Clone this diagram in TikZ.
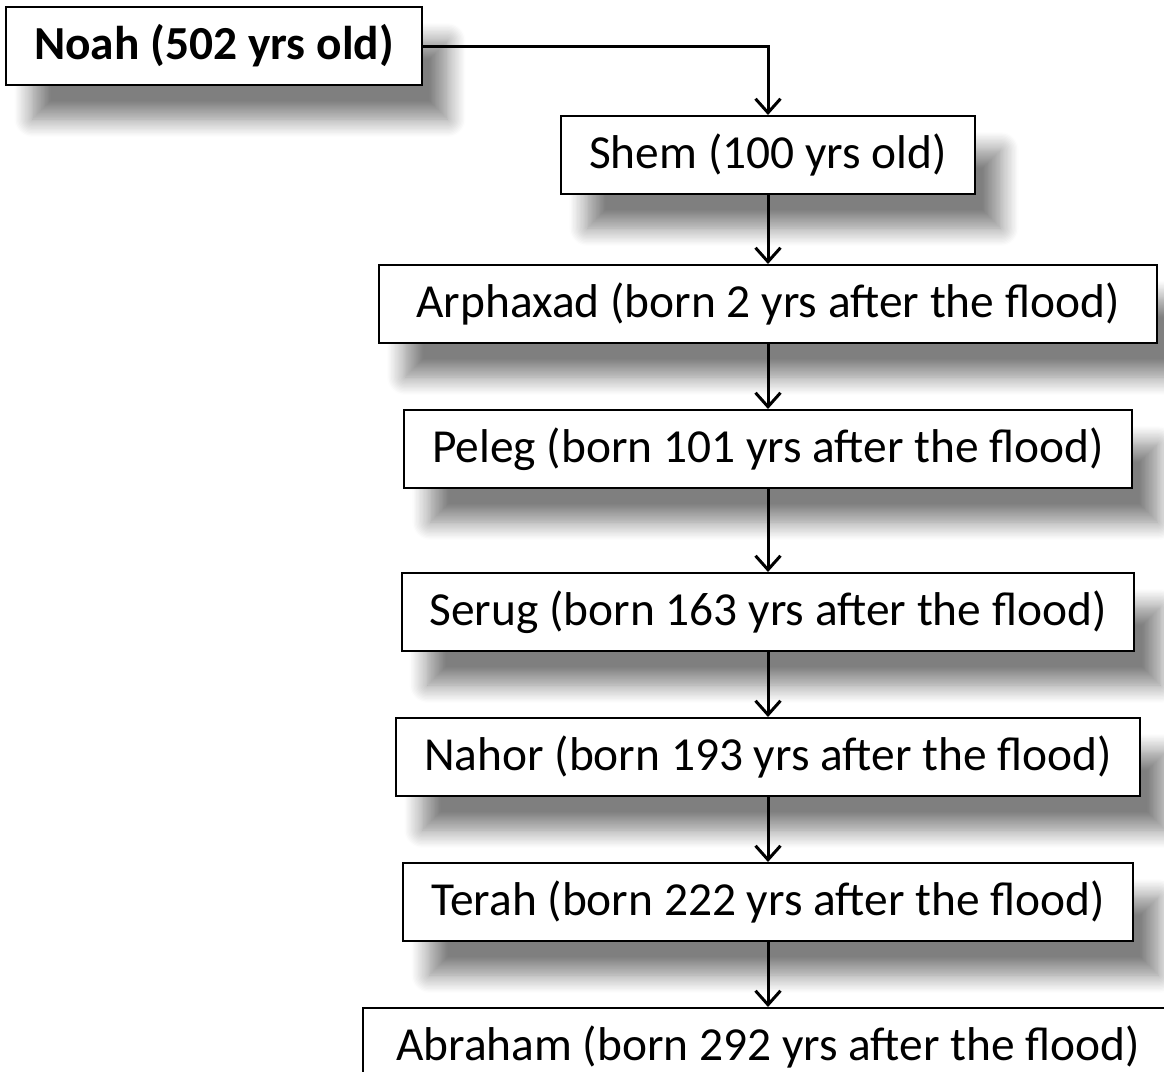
\documentclass[tikz,border=0pt]{standalone}
\usepackage{fontspec}
\setmainfont{Carlito}
\usetikzlibrary{arrows.meta, positioning, shadows.blur}
\usepackage{xcolor}
\tikzset{
    font=\fontsize{23.7pt}{28pt}\selectfont,
    >={Straight Barb[length=7pt, width=12.5pt]},
    % Shadow
    softShadow/.style={blur shadow={shadow xshift=13pt, shadow yshift=-17pt,
                       shadow blur radius=9pt, shadow blur steps=14, shadow opacity=50}},
    % Shapes
    person/.style={rectangle, draw=black, line width=1pt, fill=white,
                   minimum height=39pt, inner xsep=14pt, align=center, softShadow},
    % Flow
    flow/.style={->, line width=1.5pt, black}
}

\begin{document}
\begin{tikzpicture}[node distance=32.5pt]

\useasboundingbox (0,0) rectangle (582pt,-536pt);

\node[person, font=\fontsize{23.7pt}{28pt}\selectfont\bfseries] (noah) at (107pt,-23pt) {Noah (502 yrs old)};
\node[person] (shem) at (384pt,-77.5pt) {Shem (100 yrs old)};
\node[person, minimum width=389pt, below=34.5pt of shem] (arphaxad) {Arphaxad (born 2 yrs after the flood)};
\node[person, below=of arphaxad] (peleg) {Peleg (born 101 yrs after the flood)};
\node[person, below=41.5pt of peleg] (serug) {Serug (born 163 yrs after the flood)};
\node[person, below=of serug] (nahor) {Nahor (born 193 yrs after the flood)};
\node[person, below=of nahor] (terah) {Terah (born 222 yrs after the flood)};
\node[person, inner xsep=16.5pt, below=of terah] (abraham) {Abraham (born 292 yrs after the flood)};

\draw[flow] (noah.east) -| (shem.north);
\draw[flow] (shem) -- (arphaxad);
\draw[flow] (arphaxad) -- (peleg);
\draw[flow] (peleg) -- (serug);
\draw[flow] (serug) -- (nahor);
\draw[flow] (nahor) -- (terah);
\draw[flow] (terah) -- (abraham);

\end{tikzpicture}
\end{document}
